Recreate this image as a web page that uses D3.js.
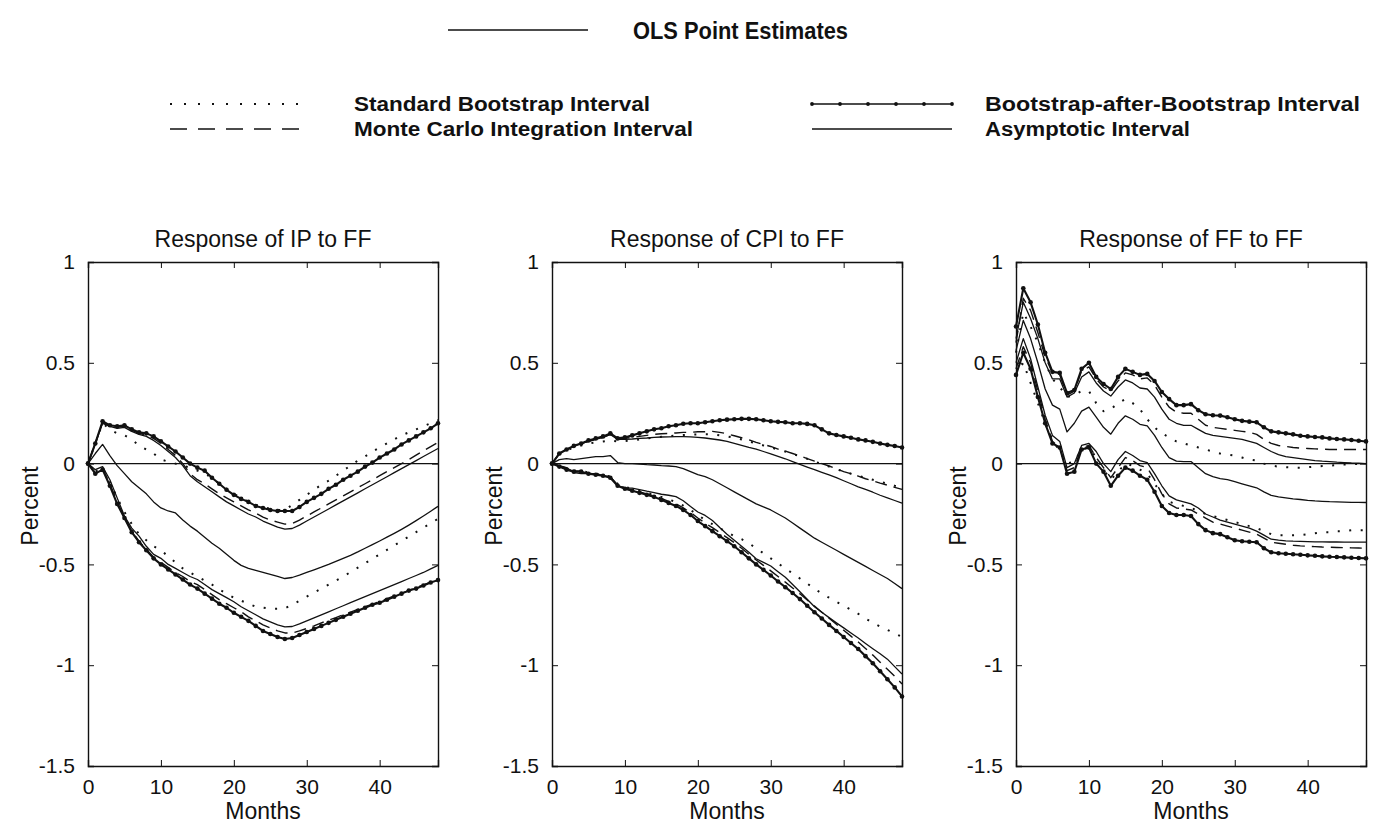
<!DOCTYPE html>
<html>
<head>
<meta charset="utf-8">
<script src="https://cdn.jsdelivr.net/npm/d3@7"></script>
<style>
  body { margin: 0; background: #fff; }
  svg { display: block; font-family: "Liberation Sans", Arial, Helvetica, sans-serif; }
</style>
</head>
<body>
<svg id="chart"></svg>
<script>
// horizon in months, axis ticks
const months = d3.range(0, 49);
const xTicks = [0, 10, 20, 30, 40];
const yTicks = [-1.5, -1, -0.5, 0, 0.5, 1];
const panelTitles = ['Response of IP to FF', 'Response of CPI to FF', 'Response of FF to FF'];

const legendTop = 'OLS Point Estimates';
const legendLeft = ['Standard Bootstrap Interval', 'Monte Carlo Integration Interval'];
const legendRight = ['Bootstrap-after-Bootstrap Interval', 'Asymptotic Interval'];

// ---- Response of IP to FF ----
const ipPoint = [0,0.05,0.095,0.04,-0.01,-0.05,-0.09,-0.12,-0.15,-0.19,-0.22,-0.235,-0.245,-0.28,-0.31,-0.335,-0.365,-0.395,-0.42,-0.45,-0.48,-0.505,-0.52,-0.53,-0.54,-0.55,-0.56,-0.57,-0.565,-0.553,-0.54,-0.527,-0.514,-0.5,-0.485,-0.47,-0.455,-0.438,-0.42,-0.402,-0.384,-0.365,-0.346,-0.326,-0.305,-0.283,-0.26,-0.236,-0.212];
const ipStdUp = [0,0.1,0.2,0.17,0.15,0.14,0.12,0.09,0.07,0.05,0.02,0.01,0.0,-0.01,-0.02,-0.035,-0.05,-0.07,-0.1,-0.125,-0.15,-0.17,-0.19,-0.205,-0.215,-0.225,-0.23,-0.23,-0.205,-0.18,-0.155,-0.13,-0.105,-0.085,-0.06,-0.035,-0.01,0.015,0.035,0.06,0.08,0.1,0.12,0.14,0.155,0.17,0.185,0.2,0.215];
const ipStdLo = [0,-0.04,-0.02,-0.09,-0.17,-0.24,-0.3,-0.35,-0.38,-0.41,-0.43,-0.46,-0.49,-0.52,-0.54,-0.56,-0.58,-0.6,-0.625,-0.645,-0.665,-0.68,-0.695,-0.71,-0.715,-0.72,-0.72,-0.718,-0.7,-0.68,-0.66,-0.64,-0.62,-0.6,-0.58,-0.56,-0.538,-0.516,-0.494,-0.472,-0.45,-0.428,-0.406,-0.384,-0.362,-0.34,-0.318,-0.296,-0.274];
const ipMcUp = [0,0.1,0.205,0.188,0.18,0.185,0.165,0.15,0.142,0.125,0.1,0.07,0.04,0.0,-0.05,-0.08,-0.1,-0.125,-0.15,-0.17,-0.19,-0.21,-0.23,-0.245,-0.265,-0.28,-0.29,-0.3,-0.298,-0.28,-0.26,-0.24,-0.22,-0.2,-0.18,-0.16,-0.14,-0.12,-0.1,-0.08,-0.06,-0.04,-0.02,0.0,0.02,0.042,0.063,0.084,0.105];
const ipMcLo = [0,-0.045,-0.025,-0.1,-0.19,-0.265,-0.335,-0.385,-0.425,-0.465,-0.49,-0.515,-0.54,-0.56,-0.585,-0.6,-0.625,-0.65,-0.675,-0.695,-0.715,-0.735,-0.76,-0.78,-0.8,-0.815,-0.83,-0.84,-0.84,-0.83,-0.818,-0.805,-0.79,-0.777,-0.764,-0.75,-0.737,-0.723,-0.71,-0.697,-0.684,-0.67,-0.656,-0.643,-0.63,-0.615,-0.602,-0.588,-0.574];
const ipBabUp = [0,0.1,0.21,0.19,0.185,0.19,0.17,0.155,0.15,0.135,0.11,0.085,0.06,0.03,0.0,-0.02,-0.035,-0.07,-0.1,-0.13,-0.155,-0.175,-0.19,-0.21,-0.22,-0.23,-0.235,-0.235,-0.235,-0.215,-0.19,-0.17,-0.15,-0.125,-0.105,-0.08,-0.06,-0.04,-0.015,0.005,0.03,0.05,0.07,0.095,0.115,0.135,0.155,0.175,0.2];
const ipBabLo = [0,-0.05,-0.03,-0.11,-0.2,-0.27,-0.34,-0.39,-0.43,-0.47,-0.5,-0.525,-0.55,-0.575,-0.6,-0.62,-0.645,-0.67,-0.695,-0.715,-0.74,-0.76,-0.78,-0.805,-0.83,-0.845,-0.86,-0.87,-0.865,-0.85,-0.835,-0.82,-0.805,-0.79,-0.775,-0.76,-0.745,-0.73,-0.715,-0.7,-0.69,-0.675,-0.66,-0.645,-0.63,-0.62,-0.605,-0.59,-0.578];
const ipAsyUp = [0,0.1,0.2,0.185,0.175,0.18,0.16,0.145,0.135,0.115,0.09,0.06,0.03,-0.01,-0.06,-0.09,-0.115,-0.14,-0.165,-0.19,-0.21,-0.23,-0.25,-0.265,-0.285,-0.3,-0.315,-0.325,-0.322,-0.305,-0.285,-0.265,-0.245,-0.225,-0.205,-0.185,-0.165,-0.145,-0.125,-0.105,-0.085,-0.065,-0.045,-0.025,-0.005,0.015,0.035,0.055,0.075];
const ipAsyLo = [0,-0.03,-0.015,-0.08,-0.17,-0.26,-0.32,-0.36,-0.41,-0.45,-0.47,-0.5,-0.52,-0.54,-0.56,-0.575,-0.6,-0.625,-0.645,-0.665,-0.685,-0.71,-0.73,-0.75,-0.77,-0.785,-0.8,-0.81,-0.808,-0.795,-0.78,-0.765,-0.75,-0.735,-0.72,-0.705,-0.69,-0.675,-0.66,-0.645,-0.63,-0.615,-0.6,-0.585,-0.57,-0.555,-0.54,-0.522,-0.505];

// ---- Response of CPI to FF ----
const cpiPoint = [0,0.02,0.025,0.02,0.025,0.03,0.035,0.035,0.04,0.005,0,0,-0.002,-0.005,-0.007,-0.01,-0.012,-0.015,-0.025,-0.04,-0.055,-0.065,-0.08,-0.1,-0.12,-0.14,-0.16,-0.18,-0.2,-0.215,-0.23,-0.25,-0.27,-0.295,-0.32,-0.345,-0.37,-0.39,-0.41,-0.43,-0.45,-0.47,-0.49,-0.51,-0.53,-0.55,-0.57,-0.595,-0.62];
const cpiStdUp = [0,0.045,0.065,0.08,0.09,0.1,0.105,0.11,0.115,0.11,0.112,0.115,0.12,0.125,0.13,0.133,0.136,0.14,0.142,0.144,0.145,0.145,0.145,0.14,0.135,0.128,0.12,0.11,0.1,0.09,0.08,0.07,0.06,0.048,0.036,0.024,0.01,-0.002,-0.015,-0.027,-0.04,-0.05,-0.06,-0.07,-0.08,-0.09,-0.1,-0.11,-0.118];
const cpiStdLo = [0,-0.012,-0.025,-0.035,-0.035,-0.045,-0.05,-0.055,-0.065,-0.1,-0.115,-0.125,-0.135,-0.145,-0.155,-0.165,-0.178,-0.19,-0.208,-0.23,-0.255,-0.28,-0.3,-0.32,-0.34,-0.36,-0.375,-0.395,-0.42,-0.445,-0.47,-0.495,-0.52,-0.545,-0.57,-0.595,-0.62,-0.645,-0.665,-0.685,-0.705,-0.725,-0.745,-0.768,-0.79,-0.808,-0.825,-0.842,-0.86];
const cpiMcUp = [0,0.05,0.07,0.085,0.1,0.11,0.12,0.13,0.145,0.12,0.125,0.13,0.135,0.14,0.145,0.148,0.15,0.152,0.155,0.155,0.158,0.158,0.16,0.155,0.148,0.138,0.128,0.118,0.105,0.095,0.085,0.072,0.062,0.05,0.038,0.025,0.012,0,-0.012,-0.025,-0.04,-0.05,-0.062,-0.075,-0.086,-0.097,-0.107,-0.118,-0.128];
const cpiMcLo = [0,-0.013,-0.027,-0.037,-0.038,-0.047,-0.052,-0.057,-0.066,-0.105,-0.12,-0.13,-0.14,-0.15,-0.16,-0.173,-0.187,-0.2,-0.22,-0.243,-0.27,-0.295,-0.318,-0.342,-0.367,-0.392,-0.42,-0.45,-0.478,-0.505,-0.532,-0.56,-0.588,-0.617,-0.646,-0.677,-0.707,-0.737,-0.767,-0.797,-0.827,-0.856,-0.885,-0.917,-0.95,-0.985,-1.02,-1.055,-1.093];
const cpiBabUp = [0,0.05,0.07,0.088,0.1,0.115,0.125,0.135,0.15,0.125,0.13,0.14,0.15,0.16,0.17,0.175,0.185,0.19,0.198,0.2,0.2,0.205,0.21,0.215,0.218,0.22,0.222,0.222,0.22,0.215,0.21,0.207,0.205,0.2,0.2,0.197,0.19,0.17,0.15,0.142,0.135,0.128,0.12,0.115,0.108,0.1,0.093,0.087,0.08];
const cpiBabLo = [0,-0.015,-0.03,-0.04,-0.04,-0.05,-0.055,-0.06,-0.07,-0.11,-0.125,-0.135,-0.145,-0.155,-0.165,-0.18,-0.195,-0.21,-0.23,-0.255,-0.285,-0.31,-0.335,-0.36,-0.385,-0.41,-0.44,-0.47,-0.5,-0.527,-0.555,-0.585,-0.613,-0.642,-0.672,-0.705,-0.737,-0.768,-0.8,-0.83,-0.86,-0.89,-0.92,-0.955,-0.99,-1.03,-1.07,-1.11,-1.155];
const cpiAsyUp = [0,0.05,0.07,0.085,0.1,0.11,0.12,0.13,0.145,0.12,0.12,0.122,0.125,0.127,0.13,0.132,0.133,0.134,0.134,0.133,0.13,0.127,0.122,0.117,0.11,0.1,0.09,0.08,0.072,0.06,0.048,0.036,0.024,0.01,-0.004,-0.017,-0.03,-0.043,-0.056,-0.07,-0.085,-0.1,-0.115,-0.128,-0.142,-0.157,-0.17,-0.183,-0.196];
const cpiAsyLo = [0,-0.01,-0.02,-0.045,-0.05,-0.05,-0.05,-0.06,-0.065,-0.11,-0.12,-0.122,-0.129,-0.137,-0.144,-0.152,-0.157,-0.164,-0.184,-0.213,-0.24,-0.257,-0.282,-0.317,-0.35,-0.38,-0.41,-0.44,-0.472,-0.49,-0.508,-0.536,-0.564,-0.6,-0.636,-0.673,-0.71,-0.737,-0.764,-0.79,-0.815,-0.84,-0.865,-0.892,-0.918,-0.943,-0.97,-1.007,-1.044];

// ---- Response of FF to FF ----
const ffPoint = [0.56,0.71,0.62,0.5,0.37,0.29,0.27,0.157,0.2,0.26,0.28,0.23,0.18,0.146,0.2,0.237,0.22,0.195,0.187,0.14,0.08,0.03,0.012,0.01,0.01,-0.02,-0.05,-0.065,-0.075,-0.08,-0.09,-0.1,-0.11,-0.12,-0.14,-0.158,-0.165,-0.17,-0.175,-0.178,-0.182,-0.185,-0.187,-0.189,-0.19,-0.191,-0.192,-0.192,-0.193];
const ffStdUp = [0.55,0.75,0.68,0.6,0.5,0.42,0.38,0.33,0.34,0.36,0.36,0.3,0.26,0.27,0.3,0.32,0.3,0.27,0.22,0.18,0.15,0.13,0.11,0.1,0.09,0.08,0.07,0.06,0.05,0.045,0.04,0.03,0.02,0.015,0,-0.01,-0.015,-0.018,-0.02,-0.02,-0.018,-0.015,-0.012,-0.01,-0.008,-0.005,-0.003,-0.002,0];
const ffStdLo = [0.44,0.5,0.4,0.3,0.2,0.12,0.06,0,0.01,0.07,0.08,0.03,-0.03,-0.08,-0.04,0,-0.01,-0.03,-0.05,-0.1,-0.15,-0.19,-0.2,-0.21,-0.22,-0.235,-0.25,-0.26,-0.27,-0.28,-0.29,-0.3,-0.31,-0.32,-0.335,-0.35,-0.355,-0.355,-0.355,-0.355,-0.35,-0.345,-0.34,-0.34,-0.335,-0.335,-0.33,-0.33,-0.33];
const ffMcUp = [0.6,0.82,0.76,0.65,0.53,0.45,0.44,0.34,0.36,0.46,0.48,0.42,0.38,0.36,0.41,0.45,0.44,0.42,0.425,0.39,0.33,0.28,0.255,0.25,0.25,0.22,0.19,0.18,0.175,0.17,0.165,0.16,0.155,0.145,0.12,0.1,0.09,0.085,0.08,0.077,0.075,0.073,0.072,0.07,0.07,0.07,0.07,0.07,0.07];
const ffMcLo = [0.47,0.58,0.5,0.36,0.22,0.11,0.08,-0.035,-0.02,0.08,0.09,0.03,-0.02,-0.07,-0.02,0.03,0.015,-0.01,-0.02,-0.08,-0.15,-0.2,-0.22,-0.225,-0.23,-0.25,-0.27,-0.29,-0.3,-0.31,-0.32,-0.33,-0.34,-0.35,-0.37,-0.39,-0.395,-0.4,-0.405,-0.408,-0.41,-0.412,-0.414,-0.415,-0.416,-0.417,-0.418,-0.419,-0.42];
const ffBabUp = [0.68,0.87,0.8,0.69,0.55,0.455,0.45,0.35,0.365,0.47,0.5,0.43,0.395,0.37,0.43,0.47,0.455,0.44,0.445,0.41,0.355,0.32,0.29,0.29,0.295,0.265,0.245,0.24,0.238,0.23,0.22,0.212,0.208,0.205,0.18,0.16,0.155,0.15,0.145,0.138,0.135,0.132,0.13,0.125,0.122,0.12,0.117,0.113,0.11];
const ffBabLo = [0.44,0.55,0.47,0.33,0.2,0.1,0.08,-0.05,-0.04,0.07,0.08,0,-0.04,-0.11,-0.06,-0.02,-0.035,-0.06,-0.08,-0.14,-0.21,-0.245,-0.255,-0.255,-0.26,-0.3,-0.33,-0.345,-0.35,-0.365,-0.38,-0.385,-0.388,-0.39,-0.42,-0.44,-0.445,-0.447,-0.45,-0.452,-0.455,-0.457,-0.46,-0.462,-0.463,-0.465,-0.467,-0.468,-0.47];
const ffAsyUp = [0.62,0.8,0.72,0.62,0.5,0.42,0.42,0.33,0.35,0.43,0.455,0.4,0.36,0.335,0.38,0.415,0.4,0.375,0.37,0.33,0.27,0.22,0.2,0.19,0.19,0.17,0.15,0.14,0.135,0.13,0.125,0.12,0.11,0.1,0.08,0.06,0.045,0.035,0.03,0.025,0.02,0.015,0.012,0.01,0.007,0.005,0.003,0.002,0];
const ffAsyLo = [0.5,0.62,0.52,0.38,0.24,0.14,0.11,-0.02,0,0.09,0.1,0.06,0,-0.04,0.02,0.06,0.04,0.015,0.005,-0.05,-0.11,-0.16,-0.18,-0.19,-0.2,-0.22,-0.25,-0.265,-0.28,-0.29,-0.3,-0.31,-0.32,-0.335,-0.355,-0.375,-0.38,-0.383,-0.385,-0.386,-0.387,-0.388,-0.388,-0.389,-0.389,-0.39,-0.39,-0.39,-0.39];

// line styles per interval type
const styles = {
    std:   { dash: '2,9.5', width: 2 },
    mc:    { dash: '12,7', width: 1.4 },
    bab:   { dash: null, width: 2.1, dots: true },
    asy:   { dash: null, width: 1.3 },
    point: { dash: null, width: 1.3 }
};

class IrfPanel {
    constructor(_config, _data) {
        this.config = {
            parentElement: _config.parentElement,
            left: _config.left,
            top: 262,
            width: 350,
            height: 504,
            title: _config.title
        };
        this.data = _data;
        this.initVis();
    }

    initVis() {
        let vis = this;

        vis.chart = vis.config.parentElement.append('g')
            .attr('transform', `translate(${vis.config.left},${vis.config.top})`);

        vis.xScale = d3.scaleLinear().domain([0, 48]).range([0, vis.config.width]);
        vis.yScale = d3.scaleLinear().domain([-1.5, 1]).range([vis.config.height, 0]);

        const fmt = d => String(d);

        // box with inward ticks on all four sides (matlab look)
        vis.chart.append('g')
            .attr('transform', `translate(0,${vis.config.height})`)
            .call(d3.axisBottom(vis.xScale).tickValues(xTicks).tickSize(-6).tickPadding(13).tickFormat(fmt));
        vis.chart.append('g')
            .call(d3.axisTop(vis.xScale).tickValues(xTicks).tickSize(-6).tickFormat(''));
        vis.chart.append('g')
            .call(d3.axisLeft(vis.yScale).tickValues(yTicks).tickSize(-6).tickPadding(13).tickFormat(fmt));
        vis.chart.append('g')
            .attr('transform', `translate(${vis.config.width},0)`)
            .call(d3.axisRight(vis.yScale).tickValues(yTicks).tickSize(-6).tickFormat(''));

        vis.chart.selectAll('.domain').attr('stroke', '#111').attr('stroke-width', 1.4);
        vis.chart.selectAll('.tick line').attr('stroke', '#111');
        vis.chart.selectAll('.tick text')
            .attr('fill', '#111')
            .style('font-size', '21px')
            .style('font-family', '"Liberation Sans", Arial, sans-serif');

        // zero line
        vis.chart.append('line')
            .attr('x1', 0).attr('x2', vis.config.width)
            .attr('y1', vis.yScale(0)).attr('y2', vis.yScale(0))
            .attr('stroke', '#111').attr('stroke-width', 1.3);

        vis.chart.append('text')
            .attr('x', vis.config.width / 2).attr('y', -15)
            .attr('text-anchor', 'middle')
            .style('font-size', '23px').attr('fill', '#111')
            .text(vis.config.title);

        vis.chart.append('text')
            .attr('x', vis.config.width / 2).attr('y', vis.config.height + 53)
            .attr('text-anchor', 'middle')
            .style('font-size', '23px').attr('fill', '#111')
            .text('Months');

        vis.chart.append('text')
            .attr('transform', `translate(-50,${vis.config.height / 2 - 8}) rotate(-90)`)
            .attr('text-anchor', 'middle')
            .style('font-size', '23px').attr('fill', '#111')
            .text('Percent');

        vis.line = d3.line()
            .x((d, i) => vis.xScale(months[i]))
            .y(d => vis.yScale(d));

        vis.updateVis();
    }

    updateVis() {
        let vis = this;

        const series = [];
        ['std', 'mc', 'asy', 'bab'].forEach(key => {
            vis.data[key].forEach(values => series.push({ key, values }));
        });
        series.push({ key: 'point', values: vis.data.point });

        vis.chart.selectAll('.irf')
            .data(series)
            .join('path')
            .attr('class', 'irf')
            .attr('d', d => vis.line(d.values))
            .attr('fill', 'none')
            .attr('stroke', '#111')
            .attr('stroke-width', d => styles[d.key].width)
            .attr('stroke-dasharray', d => styles[d.key].dash)
            .attr('stroke-linejoin', 'round');

        const dots = series.filter(d => styles[d.key].dots)
            .flatMap(d => d.values.map((v, i) => ({ m: months[i], v })));

        vis.chart.selectAll('.bab-dot')
            .data(dots)
            .join('circle')
            .attr('class', 'bab-dot')
            .attr('cx', d => vis.xScale(d.m))
            .attr('cy', d => vis.yScale(d.v))
            .attr('r', 2.3)
            .attr('fill', '#111');
    }
}

const svg = d3.select('#chart').attr('width', 1377).attr('height', 826);

// ---- legend ----
function drawLegend() {
    const g = svg.append('g').attr('fill', '#111');
    const bold = sel => sel.style('font-weight', 'bold').attr('fill', '#111');

    g.append('line').attr('x1', 448).attr('x2', 588).attr('y1', 30).attr('y2', 30)
        .attr('stroke', '#111').attr('stroke-width', 1.3);
    g.append('text').attr('x', 633).attr('y', 39).style('font-size', '23px').call(bold)
        .attr('textLength', 215).attr('lengthAdjust', 'spacingAndGlyphs').text(legendTop);

    const rows = [104, 129];
    const leftKeys = ['std', 'mc'];
    const rightKeys = ['bab', 'asy'];
    const leftWidths = [296, 339];
    const rightWidths = [375, 205];
    const legendDash = { std: '2,12', mc: '17,11', bab: null, asy: null };

    rows.forEach((y, i) => {
        [[170, leftKeys[i], 354, legendLeft[i], leftWidths[i]],
         [812, rightKeys[i], 985, legendRight[i], rightWidths[i]]].forEach(([x0, key, tx, label, w]) => {
            g.append('line').attr('x1', x0).attr('x2', x0 + 140).attr('y1', y).attr('y2', y)
                .attr('stroke', '#111')
                .attr('stroke-width', key === 'bab' ? 1.7 : (key === 'std' ? 1.8 : 1.3))
                .attr('stroke-dasharray', legendDash[key]);
            if (key === 'bab') {
                g.selectAll(null).data(d3.range(0, 6)).join('circle')
                    .attr('cx', k => x0 + k * 28).attr('cy', y).attr('r', 1.9);
            }
            g.append('text').attr('x', tx).attr('y', y + 7).style('font-size', '20px').call(bold)
                .attr('textLength', w).attr('lengthAdjust', 'spacingAndGlyphs')
                .text(label);
        });
    });
}

drawLegend();

const panelData = [
    { point: ipPoint, std: [ipStdUp, ipStdLo], mc: [ipMcUp, ipMcLo], bab: [ipBabUp, ipBabLo], asy: [ipAsyUp, ipAsyLo] },
    { point: cpiPoint, std: [cpiStdUp, cpiStdLo], mc: [cpiMcUp, cpiMcLo], bab: [cpiBabUp, cpiBabLo], asy: [cpiAsyUp, cpiAsyLo] },
    { point: ffPoint, std: [ffStdUp, ffStdLo], mc: [ffMcUp, ffMcLo], bab: [ffBabUp, ffBabLo], asy: [ffAsyUp, ffAsyLo] }
];

panelData.forEach((d, i) => {
    new IrfPanel({ parentElement: svg, left: 88 + i * 464, title: panelTitles[i] }, d);
});
</script>
</body>
</html>
